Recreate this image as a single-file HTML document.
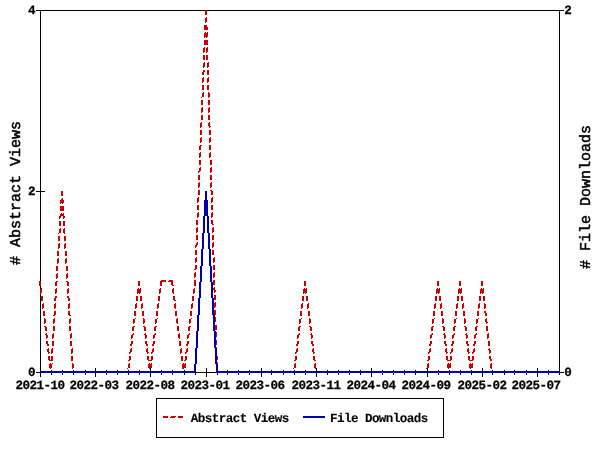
<!DOCTYPE html>
<html lang="en"><head><meta charset="utf-8"><title>Abstract Views and File Downloads</title>
<style>html,body{margin:0;padding:0;background:#fff;overflow:hidden}svg{display:block}</style></head>
<body>
<svg width="600" height="450" viewBox="0 0 600 450" shape-rendering="crispEdges">
<rect x="0" y="0" width="600" height="450" fill="#fff"/>
<path fill="#000" d="M40 10h520v1h-520zM40 372h520v1h-520zM40 10h1v363h-1zM559 10h1v363h-1zM36 10h5v1h-5zM36 191h9v1h-9zM36 372h5v1h-5zM559 10h5v1h-5zM559 372h5v1h-5zM40 368h1v9h-1zM51 370h1v5h-1zM62 370h1v5h-1zM73 370h1v5h-1zM85 370h1v5h-1zM95 368h1v9h-1zM106 370h1v5h-1zM117 370h1v5h-1zM128 370h1v5h-1zM139 370h1v5h-1zM150 368h1v9h-1zM161 370h1v5h-1zM172 370h1v5h-1zM184 370h1v5h-1zM195 370h1v5h-1zM206 368h1v9h-1zM217 370h1v5h-1zM227 370h1v5h-1zM238 370h1v5h-1zM249 370h1v5h-1zM261 368h1v9h-1zM271 370h1v5h-1zM283 370h1v5h-1zM294 370h1v5h-1zM305 370h1v5h-1zM316 368h1v9h-1zM327 370h1v5h-1zM338 370h1v5h-1zM349 370h1v5h-1zM360 370h1v5h-1zM371 368h1v9h-1zM382 370h1v5h-1zM393 370h1v5h-1zM404 370h1v5h-1zM415 370h1v5h-1zM427 368h1v9h-1zM438 370h1v5h-1zM449 370h1v5h-1zM460 370h1v5h-1zM471 370h1v5h-1zM482 368h1v9h-1zM492 370h1v5h-1zM504 370h1v5h-1zM514 370h1v5h-1zM526 370h1v5h-1zM537 368h1v9h-1zM548 370h1v5h-1zM559 370h1v5h-1zM156 398h288v1h-288zM156 437h288v1h-288zM156 398h1v40h-1zM443 398h1v40h-1z"/>
<path fill="#cc0000" d="M205 10h2v5h-2zM206 17h1v5h-1zM205 18h1v5h-1zM204 25h3v5h-3zM207 27h1v3h-1zM205 32h1v5h-1zM207 32h1v5h-1zM204 33h1v5h-1zM206 33h1v5h-1zM204 40h4v5h-4zM204 47h1v5h-1zM207 47h1v5h-1zM203 48h1v5h-1zM206 48h1v5h-1zM203 55h2v5h-2zM206 55h2v5h-2zM204 62h1v5h-1zM208 62h1v5h-1zM203 63h1v5h-1zM207 63h1v5h-1zM204 70h1v2h-1zM203 70h1v5h-1zM207 70h2v5h-2zM202 72h1v3h-1zM203 77h1v5h-1zM208 77h1v5h-1zM202 78h1v5h-1zM207 78h1v5h-1zM202 85h2v5h-2zM207 85h2v5h-2zM203 92h1v5h-1zM208 92h1v6h-1zM202 93h1v4h-1zM209 93h1v4h-1zM201 97h1v1h-1zM201 100h2v5h-2zM208 100h2v5h-2zM202 107h1v5h-1zM209 107h1v5h-1zM201 108h1v5h-1zM208 108h1v5h-1zM201 115h2v5h-2zM208 115h2v5h-2zM201 122h1v5h-1zM209 122h1v6h-1zM208 123h1v3h-1zM200 123h1v5h-1zM210 126h1v1h-1zM200 130h2v5h-2zM209 130h2v5h-2zM201 137h1v5h-1zM210 137h1v5h-1zM200 138h1v5h-1zM209 138h1v5h-1zM201 145h1v1h-1zM200 145h1v5h-1zM209 145h2v5h-2zM199 146h1v4h-1zM200 152h1v5h-1zM210 152h1v5h-1zM199 153h1v5h-1zM209 153h1v5h-1zM199 160h2v5h-2zM210 160h2v5h-2zM200 167h1v4h-1zM211 167h1v5h-1zM199 168h1v4h-1zM210 168h1v5h-1zM198 171h1v2h-1zM198 175h2v5h-2zM210 175h2v5h-2zM199 182h1v5h-1zM211 182h1v5h-1zM198 183h1v5h-1zM210 183h1v5h-1zM210 190h1v1h-1zM198 190h2v5h-2zM211 190h1v5h-1zM212 191h1v4h-1zM61 191h2v5h-2zM198 197h1v5h-1zM212 197h1v5h-1zM197 198h1v5h-1zM211 198h1v5h-1zM62 198h1v6h-1zM61 199h1v4h-1zM63 200h1v3h-1zM60 200h1v4h-1zM197 205h2v5h-2zM211 205h2v5h-2zM60 206h4v5h-4zM198 212h1v5h-1zM212 212h1v5h-1zM61 213h1v3h-1zM197 213h1v5h-1zM211 213h1v5h-1zM63 213h1v6h-1zM62 214h1v2h-1zM60 214h1v4h-1zM64 216h1v2h-1zM59 216h1v3h-1zM211 220h1v4h-1zM196 220h2v5h-2zM212 220h1v5h-1zM59 221h2v5h-2zM63 221h2v5h-2zM213 224h1v1h-1zM197 227h1v5h-1zM213 227h1v5h-1zM60 228h1v5h-1zM196 228h1v5h-1zM212 228h1v5h-1zM64 228h1v6h-1zM59 229h1v4h-1zM63 229h1v4h-1zM58 233h1v1h-1zM196 235h2v5h-2zM212 235h2v5h-2zM58 236h2v5h-2zM64 236h2v5h-2zM197 242h1v3h-1zM213 242h1v5h-1zM196 243h1v4h-1zM59 243h1v5h-1zM65 243h1v5h-1zM212 243h1v5h-1zM58 244h1v5h-1zM64 244h1v5h-1zM195 245h1v3h-1zM195 250h2v5h-2zM212 250h2v5h-2zM57 251h2v5h-2zM65 251h2v5h-2zM196 257h1v5h-1zM214 257h1v5h-1zM58 258h1v5h-1zM66 258h1v5h-1zM195 258h1v5h-1zM213 258h1v5h-1zM57 259h1v5h-1zM65 259h1v5h-1zM196 265h1v4h-1zM195 265h1v5h-1zM213 265h2v5h-2zM56 266h2v5h-2zM66 266h2v5h-2zM194 269h1v1h-1zM195 272h1v5h-1zM214 272h1v5h-1zM57 273h1v5h-1zM67 273h1v5h-1zM194 273h1v5h-1zM213 273h1v5h-1zM56 274h1v5h-1zM66 274h1v5h-1zM162 280h4v2h-4zM169 280h2v2h-2zM171 280h1v5h-1zM213 280h2v5h-2zM161 280h1v6h-1zM172 280h1v6h-1zM194 280h2v6h-2zM57 281h1v1h-1zM66 281h1v1h-1zM168 281h1v1h-1zM39 281h2v5h-2zM56 281h1v5h-1zM67 281h1v5h-1zM138 281h2v5h-2zM160 281h1v5h-1zM304 281h2v5h-2zM437 281h2v5h-2zM459 281h2v5h-2zM481 281h2v5h-2zM55 282h1v4h-1zM68 282h1v4h-1zM173 285h1v1h-1zM214 287h1v6h-1zM213 288h1v2h-1zM41 288h1v5h-1zM56 288h1v5h-1zM68 288h1v5h-1zM138 288h1v5h-1zM140 288h1v5h-1zM160 288h1v5h-1zM194 288h1v5h-1zM304 288h1v5h-1zM306 288h1v5h-1zM437 288h1v5h-1zM439 288h1v5h-1zM459 288h1v5h-1zM461 288h1v5h-1zM481 288h1v5h-1zM483 288h1v5h-1zM173 288h1v6h-1zM172 289h1v4h-1zM40 289h1v5h-1zM55 289h1v5h-1zM67 289h1v5h-1zM137 289h1v5h-1zM139 289h1v5h-1zM159 289h1v5h-1zM193 289h1v5h-1zM303 289h1v5h-1zM305 289h1v5h-1zM436 289h1v5h-1zM438 289h1v5h-1zM458 289h1v5h-1zM460 289h1v5h-1zM480 289h1v5h-1zM482 289h1v5h-1zM215 290h1v2h-1zM214 295h2v5h-2zM56 296h1v2h-1zM67 296h1v2h-1zM173 296h1v4h-1zM41 296h2v5h-2zM55 296h1v5h-1zM68 296h1v5h-1zM136 296h2v5h-2zM140 296h2v5h-2zM158 296h2v5h-2zM174 296h1v5h-1zM192 296h2v5h-2zM302 296h2v5h-2zM306 296h2v5h-2zM435 296h2v5h-2zM439 296h2v5h-2zM457 296h2v5h-2zM461 296h2v5h-2zM479 296h2v5h-2zM483 296h2v5h-2zM54 298h1v3h-1zM69 298h1v3h-1zM175 300h1v1h-1zM215 302h1v5h-1zM43 303h1v5h-1zM55 303h1v5h-1zM69 303h1v5h-1zM136 303h1v5h-1zM142 303h1v5h-1zM158 303h1v5h-1zM192 303h1v5h-1zM214 303h1v5h-1zM302 303h1v5h-1zM308 303h1v5h-1zM435 303h1v5h-1zM441 303h1v5h-1zM457 303h1v5h-1zM463 303h1v5h-1zM479 303h1v5h-1zM175 303h1v6h-1zM484 303h1v6h-1zM174 304h1v4h-1zM485 304h1v4h-1zM42 304h1v5h-1zM54 304h1v5h-1zM68 304h1v5h-1zM135 304h1v5h-1zM141 304h1v5h-1zM157 304h1v5h-1zM191 304h1v5h-1zM301 304h1v5h-1zM307 304h1v5h-1zM434 304h1v5h-1zM440 304h1v5h-1zM456 304h1v5h-1zM462 304h1v5h-1zM478 304h1v5h-1zM214 310h2v5h-2zM484 311h1v2h-1zM55 311h1v4h-1zM68 311h1v4h-1zM43 311h2v5h-2zM54 311h1v5h-1zM69 311h1v5h-1zM134 311h2v5h-2zM142 311h2v5h-2zM156 311h2v5h-2zM175 311h2v5h-2zM190 311h2v5h-2zM300 311h2v5h-2zM308 311h2v5h-2zM433 311h2v5h-2zM441 311h2v5h-2zM455 311h2v5h-2zM463 311h2v5h-2zM477 311h2v5h-2zM485 311h1v5h-1zM486 313h1v3h-1zM53 315h1v1h-1zM70 315h1v1h-1zM215 317h1v5h-1zM135 318h1v1h-1zM157 318h1v1h-1zM191 318h1v1h-1zM301 318h1v1h-1zM434 318h1v1h-1zM456 318h1v1h-1zM478 318h1v1h-1zM54 318h1v5h-1zM70 318h1v5h-1zM214 318h1v5h-1zM44 318h1v6h-1zM143 318h1v6h-1zM177 318h1v6h-1zM309 318h1v6h-1zM442 318h1v6h-1zM464 318h1v6h-1zM486 318h1v6h-1zM485 319h1v3h-1zM45 319h1v4h-1zM134 319h1v4h-1zM144 319h1v4h-1zM156 319h1v4h-1zM176 319h1v4h-1zM190 319h1v4h-1zM300 319h1v4h-1zM310 319h1v4h-1zM433 319h1v4h-1zM443 319h1v4h-1zM455 319h1v4h-1zM465 319h1v4h-1zM477 319h1v4h-1zM53 319h1v5h-1zM69 319h1v5h-1zM133 319h1v5h-1zM155 319h1v5h-1zM189 319h1v5h-1zM299 319h1v5h-1zM432 319h1v5h-1zM454 319h1v5h-1zM476 319h1v5h-1zM487 322h1v1h-1zM215 325h2v5h-2zM44 326h1v1h-1zM134 326h1v1h-1zM143 326h1v1h-1zM156 326h1v1h-1zM190 326h1v1h-1zM300 326h1v1h-1zM309 326h1v1h-1zM433 326h1v1h-1zM442 326h1v1h-1zM455 326h1v1h-1zM464 326h1v1h-1zM477 326h1v1h-1zM45 326h1v5h-1zM53 326h2v5h-2zM69 326h2v5h-2zM133 326h1v5h-1zM144 326h1v5h-1zM155 326h1v5h-1zM177 326h2v5h-2zM189 326h1v5h-1zM299 326h1v5h-1zM310 326h1v5h-1zM432 326h1v5h-1zM443 326h1v5h-1zM454 326h1v5h-1zM465 326h1v5h-1zM476 326h1v5h-1zM486 326h2v5h-2zM46 327h1v4h-1zM132 327h1v4h-1zM145 327h1v4h-1zM154 327h1v4h-1zM188 327h1v4h-1zM298 327h1v4h-1zM311 327h1v4h-1zM431 327h1v4h-1zM444 327h1v4h-1zM453 327h1v4h-1zM466 327h1v4h-1zM475 327h1v4h-1zM216 332h1v5h-1zM133 333h1v2h-1zM155 333h1v2h-1zM189 333h1v2h-1zM299 333h1v2h-1zM432 333h1v2h-1zM454 333h1v2h-1zM476 333h1v2h-1zM53 333h1v5h-1zM71 333h1v5h-1zM215 333h1v5h-1zM488 333h1v5h-1zM46 333h1v6h-1zM145 333h1v6h-1zM179 333h1v6h-1zM311 333h1v6h-1zM444 333h1v6h-1zM466 333h1v6h-1zM45 334h1v1h-1zM144 334h1v1h-1zM310 334h1v1h-1zM443 334h1v1h-1zM465 334h1v1h-1zM132 334h1v4h-1zM154 334h1v4h-1zM178 334h1v4h-1zM188 334h1v4h-1zM298 334h1v4h-1zM431 334h1v4h-1zM453 334h1v4h-1zM475 334h1v4h-1zM52 334h1v5h-1zM70 334h1v5h-1zM487 334h1v5h-1zM47 335h1v3h-1zM146 335h1v3h-1zM312 335h1v3h-1zM445 335h1v3h-1zM467 335h1v3h-1zM131 335h1v4h-1zM153 335h1v4h-1zM187 335h1v4h-1zM297 335h1v4h-1zM430 335h1v4h-1zM452 335h1v4h-1zM474 335h1v4h-1zM215 340h2v5h-2zM46 341h1v3h-1zM132 341h1v3h-1zM145 341h1v3h-1zM154 341h1v3h-1zM188 341h1v3h-1zM298 341h1v3h-1zM311 341h1v3h-1zM431 341h1v3h-1zM444 341h1v3h-1zM453 341h1v3h-1zM466 341h1v3h-1zM475 341h1v3h-1zM47 341h1v5h-1zM52 341h2v5h-2zM70 341h2v5h-2zM131 341h1v5h-1zM146 341h1v5h-1zM153 341h1v5h-1zM179 341h2v5h-2zM187 341h1v5h-1zM297 341h1v5h-1zM312 341h1v5h-1zM430 341h1v5h-1zM445 341h1v5h-1zM452 341h1v5h-1zM467 341h1v5h-1zM474 341h1v5h-1zM488 341h2v5h-2zM48 344h1v2h-1zM130 344h1v2h-1zM147 344h1v2h-1zM152 344h1v2h-1zM186 344h1v2h-1zM296 344h1v2h-1zM313 344h1v2h-1zM429 344h1v2h-1zM446 344h1v2h-1zM451 344h1v2h-1zM468 344h1v2h-1zM473 344h1v2h-1zM216 347h1v5h-1zM131 348h1v4h-1zM153 348h1v4h-1zM187 348h1v4h-1zM297 348h1v4h-1zM430 348h1v4h-1zM452 348h1v4h-1zM474 348h1v4h-1zM52 348h1v5h-1zM72 348h1v5h-1zM181 348h1v5h-1zM215 348h1v5h-1zM48 348h1v6h-1zM147 348h1v6h-1zM313 348h1v6h-1zM446 348h1v6h-1zM468 348h1v6h-1zM489 348h1v6h-1zM488 349h1v1h-1zM47 349h1v3h-1zM146 349h1v3h-1zM312 349h1v3h-1zM445 349h1v3h-1zM467 349h1v3h-1zM130 349h1v4h-1zM152 349h1v4h-1zM186 349h1v4h-1zM296 349h1v4h-1zM429 349h1v4h-1zM451 349h1v4h-1zM473 349h1v4h-1zM51 349h1v5h-1zM71 349h1v5h-1zM180 349h1v5h-1zM490 350h1v3h-1zM49 352h1v1h-1zM148 352h1v1h-1zM314 352h1v1h-1zM447 352h1v1h-1zM469 352h1v1h-1zM129 352h1v2h-1zM151 352h1v2h-1zM185 352h1v2h-1zM295 352h1v2h-1zM428 352h1v2h-1zM450 352h1v2h-1zM472 352h1v2h-1zM215 355h1v1h-1zM216 355h1v5h-1zM489 356h1v3h-1zM48 356h1v4h-1zM130 356h1v4h-1zM147 356h1v4h-1zM152 356h1v4h-1zM186 356h1v4h-1zM217 356h1v4h-1zM296 356h1v4h-1zM313 356h1v4h-1zM429 356h1v4h-1zM446 356h1v4h-1zM451 356h1v4h-1zM468 356h1v4h-1zM473 356h1v4h-1zM49 356h1v5h-1zM51 356h2v5h-2zM71 356h2v5h-2zM129 356h1v5h-1zM148 356h1v5h-1zM151 356h1v5h-1zM181 356h2v5h-2zM185 356h1v5h-1zM295 356h1v5h-1zM314 356h1v5h-1zM428 356h1v5h-1zM447 356h1v5h-1zM450 356h1v5h-1zM469 356h1v5h-1zM472 356h1v5h-1zM490 356h1v5h-1zM491 359h1v2h-1zM50 360h1v1h-1zM128 360h1v1h-1zM149 360h2v1h-2zM184 360h1v1h-1zM294 360h1v1h-1zM315 360h1v1h-1zM427 360h1v1h-1zM448 360h2v1h-2zM470 360h2v1h-2zM217 362h1v5h-1zM52 363h1v1h-1zM129 363h1v5h-1zM151 363h1v5h-1zM185 363h1v5h-1zM216 363h1v5h-1zM295 363h1v5h-1zM428 363h1v5h-1zM450 363h1v5h-1zM472 363h1v5h-1zM50 363h1v6h-1zM72 363h1v6h-1zM149 363h1v6h-1zM183 363h1v6h-1zM315 363h1v6h-1zM448 363h1v6h-1zM470 363h1v6h-1zM491 363h1v6h-1zM49 364h1v4h-1zM51 364h1v4h-1zM73 364h1v4h-1zM128 364h1v4h-1zM148 364h1v4h-1zM150 364h1v4h-1zM184 364h1v4h-1zM294 364h1v4h-1zM314 364h1v4h-1zM427 364h1v4h-1zM447 364h1v4h-1zM449 364h1v4h-1zM469 364h1v4h-1zM471 364h1v4h-1zM490 364h1v4h-1zM182 364h1v5h-1zM127 368h1v1h-1zM293 368h1v1h-1zM426 368h1v1h-1zM216 370h2v3h-2zM50 371h2v2h-2zM72 371h6v2h-6zM81 371h9v2h-9zM93 371h7v2h-7zM103 371h8v2h-8zM114 371h8v2h-8zM125 371h4v2h-4zM149 371h2v2h-2zM183 371h2v2h-2zM218 371h4v2h-4zM225 371h7v2h-7zM235 371h8v2h-8zM246 371h8v2h-8zM257 371h9v2h-9zM269 371h7v2h-7zM279 371h9v2h-9zM291 371h4v2h-4zM315 371h6v2h-6zM324 371h8v2h-8zM335 371h8v2h-8zM346 371h8v2h-8zM357 371h8v2h-8zM368 371h8v2h-8zM379 371h8v2h-8zM390 371h8v2h-8zM401 371h8v2h-8zM412 371h8v2h-8zM423 371h5v2h-5zM448 371h2v2h-2zM470 371h2v2h-2zM491 371h6v2h-6zM500 371h9v2h-9zM512 371h7v2h-7zM522 371h9v2h-9zM534 371h8v2h-8zM545 371h8v2h-8zM556 371h4v2h-4zM80 372h1v1h-1zM92 372h1v1h-1zM102 372h1v1h-1zM113 372h1v1h-1zM124 372h1v1h-1zM224 372h1v1h-1zM234 372h1v1h-1zM245 372h1v1h-1zM256 372h1v1h-1zM268 372h1v1h-1zM278 372h1v1h-1zM290 372h1v1h-1zM323 372h1v1h-1zM334 372h1v1h-1zM345 372h1v1h-1zM356 372h1v1h-1zM367 372h1v1h-1zM378 372h1v1h-1zM389 372h1v1h-1zM400 372h1v1h-1zM411 372h1v1h-1zM422 372h1v1h-1zM499 372h1v1h-1zM511 372h1v1h-1zM521 372h1v1h-1zM533 372h1v1h-1zM544 372h1v1h-1zM555 372h1v1h-1z"/>
<path fill="#0000b0" d="M205 191h2v25h-2zM204 200h1v33h-1zM207 200h1v33h-1zM203 216h1v33h-1zM208 216h1v33h-1zM202 233h1v33h-1zM209 233h1v33h-1zM201 249h1v33h-1zM210 249h1v33h-1zM200 266h1v32h-1zM211 266h1v32h-1zM199 282h1v33h-1zM212 282h1v33h-1zM198 298h1v33h-1zM213 298h1v33h-1zM197 315h1v33h-1zM214 315h1v33h-1zM196 331h1v33h-1zM215 331h1v33h-1zM195 348h1v25h-1zM216 348h1v25h-1zM194 364h1v9h-1zM217 364h1v9h-1zM40 371h154v2h-154zM218 371h342v2h-342z"/>
<path fill="#cc0000" d="M175 416h1v1h-1zM163 416h5v2h-5zM171 416h4v2h-4zM178 416h5v2h-5zM170 417h1v1h-1z"/>
<path fill="#0000b0" d="M303 416h22v2h-22z"/>
<g font-family="'Liberation Mono', monospace" font-weight="bold" fill="#000" text-rendering="geometricPrecision">
<text font-size="12.6" letter-spacing="-0.56" stroke="#000" stroke-width="0.25" x="15.5" y="389.4">2021-10</text>
<text font-size="12.6" letter-spacing="-0.56" stroke="#000" stroke-width="0.25" x="69.5" y="389.4">2022-03</text>
<text font-size="12.6" letter-spacing="-0.56" stroke="#000" stroke-width="0.25" x="125.5" y="389.4">2022-08</text>
<text font-size="12.6" letter-spacing="-0.56" stroke="#000" stroke-width="0.25" x="180.5" y="389.4">2023-01</text>
<text font-size="12.6" letter-spacing="-0.56" stroke="#000" stroke-width="0.25" x="235.5" y="389.4">2023-06</text>
<text font-size="12.6" letter-spacing="-0.56" stroke="#000" stroke-width="0.25" x="291.5" y="389.4">2023-11</text>
<text font-size="12.6" letter-spacing="-0.56" stroke="#000" stroke-width="0.25" x="346.5" y="389.4">2024-04</text>
<text font-size="12.6" letter-spacing="-0.56" stroke="#000" stroke-width="0.25" x="401.5" y="389.4">2024-09</text>
<text font-size="12.6" letter-spacing="-0.56" stroke="#000" stroke-width="0.25" x="457.5" y="389.4">2025-02</text>
<text font-size="12.6" letter-spacing="-0.56" stroke="#000" stroke-width="0.25" x="511.5" y="389.4">2025-07</text>
<text font-size="12.6" letter-spacing="-0.56" stroke="#000" stroke-width="0.25" x="34.9" y="14.1" text-anchor="end">4</text>
<text font-size="12.6" letter-spacing="-0.56" stroke="#000" stroke-width="0.25" x="34.9" y="195.1" text-anchor="end">2</text>
<text font-size="12.6" letter-spacing="-0.56" stroke="#000" stroke-width="0.25" x="34.9" y="376.1" text-anchor="end">0</text>
<text font-size="12.6" letter-spacing="-0.56" stroke="#000" stroke-width="0.25" x="564.3" y="14.1">2</text>
<text font-size="12.6" letter-spacing="-0.56" stroke="#000" stroke-width="0.25" x="564.3" y="376.1">0</text>
<text font-size="12.6" letter-spacing="-0.56" stroke="#000" stroke-width="0.1" x="190.7" y="421.8">Abstract Views</text>
<text font-size="12.6" letter-spacing="-0.56" stroke="#000" stroke-width="0.1" x="329.9" y="421.8">File Downloads</text>
<text font-size="15" font-weight="normal" stroke="#000" stroke-width="0.5" transform="translate(19.7 265) rotate(-90)"># Abstract Views</text>
<text font-size="15" font-weight="normal" stroke="#000" stroke-width="0.5" transform="translate(589.7 269) rotate(-90)"># File Downloads</text>
</g></svg>
</body></html>
